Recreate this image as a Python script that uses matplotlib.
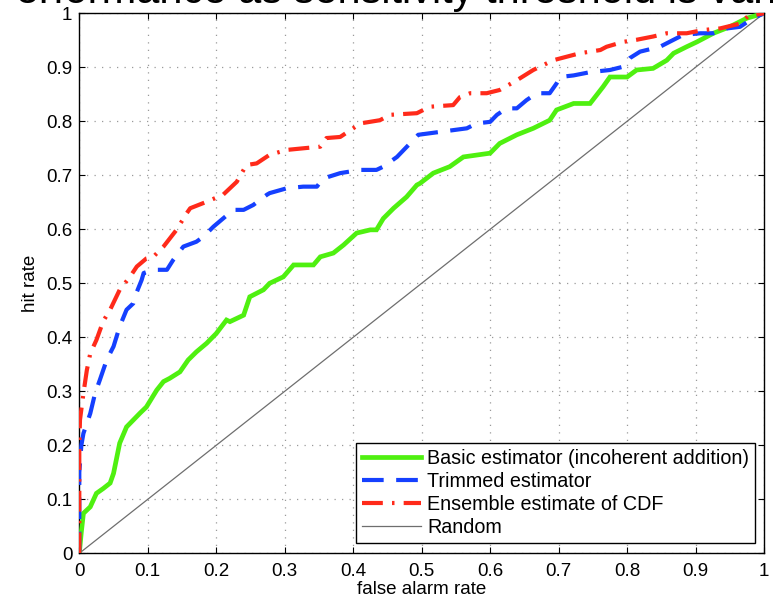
import matplotlib
matplotlib.use("Agg")
import matplotlib.pyplot as plt

plt.rcParams['font.family'] = ['Liberation Sans', 'DejaVu Sans']

# ---- data ----
basic_x = [0, 0.003, 0.006, 0.016, 0.025, 0.035, 0.045, 0.05, 0.059, 0.069, 0.079, 0.089, 0.098,
           0.113, 0.123, 0.132, 0.147, 0.159, 0.171, 0.186, 0.2, 0.215, 0.22, 0.24, 0.249, 0.269,
           0.278, 0.298, 0.313, 0.342, 0.352, 0.371, 0.386, 0.405, 0.425, 0.434, 0.444, 0.459,
           0.478, 0.493, 0.4975, 0.517, 0.541, 0.561, 0.6, 0.614, 0.639, 0.663, 0.687, 0.697,
           0.722, 0.746, 0.765, 0.775, 0.8, 0.814, 0.838, 0.858, 0.868, 0.887, 0.902, 0.926,
           0.95, 0.975, 1.0]
basic_y = [0, 0.04, 0.074, 0.086, 0.111, 0.12, 0.13, 0.148, 0.204, 0.234, 0.247, 0.26, 0.271,
           0.302, 0.318, 0.324, 0.336, 0.358, 0.373, 0.389, 0.407, 0.432, 0.429, 0.441, 0.475, 0.488,
           0.5, 0.512, 0.534, 0.534, 0.549, 0.556, 0.571, 0.593, 0.599, 0.599, 0.62, 0.639,
           0.66, 0.682, 0.685, 0.704, 0.716, 0.734, 0.741, 0.759, 0.775, 0.787, 0.802, 0.821,
           0.833, 0.833, 0.864, 0.882, 0.882, 0.895, 0.898, 0.913, 0.926, 0.938, 0.947, 0.963,
           0.975, 0.991, 1.0]

trim_x = [0, 0.0, 0.003, 0.006, 0.016, 0.023, 0.03, 0.04, 0.05, 0.059, 0.069, 0.079, 0.084, 0.091,
          0.094, 0.108, 0.128, 0.137, 0.152, 0.171, 0.181, 0.196, 0.21, 0.225, 0.24, 0.254, 0.274,
          0.278, 0.303, 0.327, 0.347, 0.356, 0.381, 0.41, 0.434, 0.444, 0.464, 0.483, 0.495,
          0.566, 0.58, 0.6, 0.61, 0.624, 0.639, 0.653, 0.668, 0.687, 0.697, 0.702, 0.722, 0.746,
          0.775, 0.794, 0.804, 0.819, 0.848, 0.868, 0.882, 0.907, 0.926, 0.946, 0.965, 0.984, 1.0]
trim_y = [0, 0.15, 0.2, 0.222, 0.259, 0.296, 0.321, 0.358, 0.383, 0.42, 0.451, 0.463, 0.484, 0.506,
          0.519, 0.525, 0.525, 0.543, 0.568, 0.577, 0.586, 0.605, 0.62, 0.636, 0.636, 0.645, 0.664,
          0.667, 0.676, 0.679, 0.679, 0.694, 0.704, 0.71, 0.71, 0.716, 0.734, 0.759, 0.775,
          0.787, 0.796, 0.799, 0.812, 0.824, 0.824, 0.839, 0.852, 0.852, 0.87, 0.882, 0.885, 0.891,
          0.895, 0.901, 0.917, 0.929, 0.938, 0.951, 0.96, 0.963, 0.963, 0.972, 0.975, 0.991, 1.0]

ens_x = [0, 0.0, 0.001, 0.006, 0.011, 0.016, 0.025, 0.035, 0.045, 0.059, 0.074, 0.084, 0.098,
         0.108, 0.123, 0.142, 0.157, 0.162, 0.186, 0.21, 0.23, 0.244, 0.259, 0.278, 0.303, 0.327,
         0.352, 0.361, 0.381, 0.4, 0.41, 0.439, 0.454, 0.493, 0.512, 0.546, 0.556, 0.571, 0.595,
         0.614, 0.639, 0.663, 0.692, 0.731, 0.761, 0.77, 0.794, 0.814, 0.838, 0.858, 0.887,
         0.911, 0.936, 0.965, 0.977, 1.0]
ens_y = [0, 0.2, 0.247, 0.296, 0.339, 0.37, 0.395, 0.43, 0.451, 0.488, 0.512, 0.531, 0.546,
         0.549, 0.568, 0.599, 0.63, 0.639, 0.651, 0.664, 0.688, 0.719, 0.722, 0.738, 0.747, 0.75,
         0.753, 0.769, 0.771, 0.787, 0.796, 0.802, 0.812, 0.815, 0.827, 0.83, 0.845, 0.852, 0.852,
         0.858, 0.876, 0.895, 0.913, 0.926, 0.932, 0.938, 0.947, 0.951, 0.957, 0.963, 0.963,
         0.969, 0.972, 0.981, 0.995, 1.0]

random_x = [0, 1]
random_y = [0, 1]

labels = ["Basic estimator (incoherent addition)", "Trimmed estimator",
          "Ensemble estimate of CDF", "Random"]
ticks = [0, 0.1, 0.2, 0.3, 0.4, 0.5, 0.6, 0.7, 0.8, 0.9, 1]
tick_labels = ["0", "0.1", "0.2", "0.3", "0.4", "0.5", "0.6", "0.7", "0.8", "0.9", "1"]
title = "Performance as sensitivity threshold is varied"

# ---- figure ----
fig = plt.figure(figsize=(7.73, 6.03), dpi=100)
ax = fig.add_axes([79.3/773, 1-553.3/603, 684.7/773, 540/603])

ax.plot(basic_x, basic_y, color='#4ff010', lw=3.4, solid_joinstyle='miter', label=labels[0], zorder=3)
ax.plot(trim_x, trim_y, color='#1540ff', lw=3.0, linestyle=(0, (5.2, 3.0)),
        dash_capstyle='butt', label=labels[1], zorder=4)
ax.plot(ens_x, ens_y, color='#ff2a1a', lw=3.0, linestyle=(0, (5.0, 2.2, 0.6, 2.2)),
        dash_capstyle='butt', label=labels[2], zorder=5)
ax.plot(random_x, random_y, color='#6e6e6e', lw=0.9, label=labels[3], zorder=2)

ax.set_xlim(0, 1)
ax.set_ylim(0, 1)
ax.set_xticks(ticks)
ax.set_xticklabels(tick_labels)
ax.set_yticks(ticks)
ax.set_yticklabels(tick_labels)
ax.tick_params(direction='in', top=True, right=True, length=4, width=0.8,
               labelsize=13.5)
ax.tick_params(axis='x', pad=7)
ax.tick_params(axis='y', pad=5)
ax.grid(True, color='#9a9a9a', linestyle=(0, (1, 5)), lw=0.9)
for s in ax.spines.values():
    s.set_linewidth(1.0)

ax.set_xlabel("false alarm rate", fontsize=13.5, labelpad=1)
ax.set_ylabel("hit rate", fontsize=13.5, labelpad=5)

leg = ax.legend(loc='lower right', bbox_to_anchor=(0.987, 0.019), borderaxespad=0,
                fontsize=14.2, handlelength=3.0, handletextpad=0.3, labelspacing=0.2,
                fancybox=False, framealpha=1, edgecolor='black', borderpad=0.3)
leg.get_frame().set_linewidth(1.0)

fig.text(405/773, 1-3/603, title, fontsize=30, ha='center', va='baseline')

fig.savefig("out.png", dpi=100)
